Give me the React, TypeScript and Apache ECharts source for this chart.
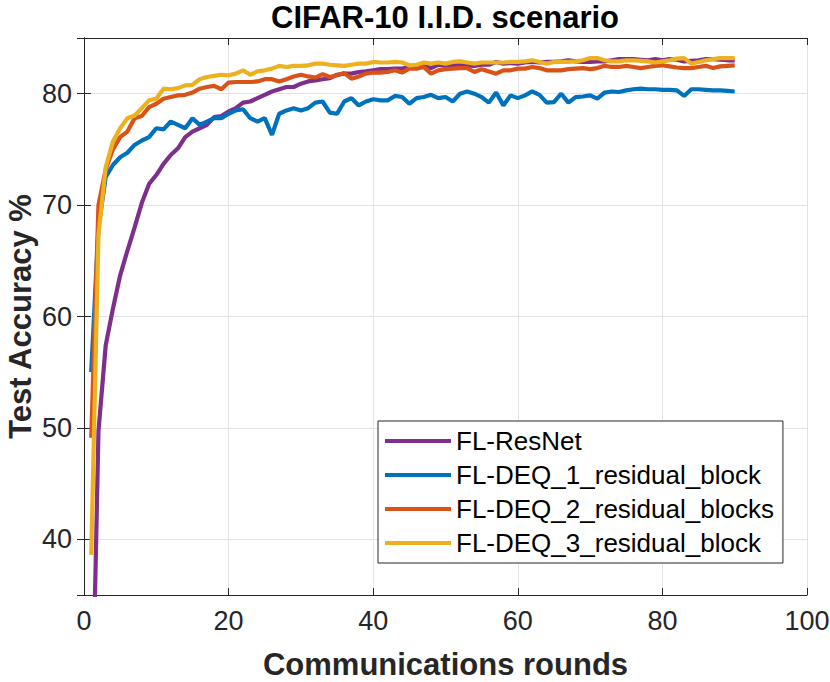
import React, { useEffect, useRef } from "react";
import * as echarts from "echarts";

const seriesNames = [
  "FL-ResNet",
  "FL-DEQ_1_residual_block",
  "FL-DEQ_2_residual_blocks",
  "FL-DEQ_3_residual_block",
];
const seriesColors = ["#7E2F8E", "#0072BD", "#D95319", "#EDB120"];

const resnet = [
  19, 49.7, 57.4, 60.7, 63.7, 65.9, 68.0, 70.2, 71.9, 72.7,
  73.7, 74.5, 75.1, 76.1, 76.6, 76.9, 77.2, 77.9, 78.0, 78.4,
  78.7, 79.2, 79.3, 79.6, 79.9, 80.2, 80.4, 80.6, 80.6, 80.9,
  81.1, 81.2, 81.3, 81.4, 81.7, 81.8, 81.8, 81.95, 82.0, 82.1,
  82.2, 82.2, 82.25, 82.25, 82.4, 82.3, 82.5, 82.3, 82.6, 82.5,
  82.55, 82.6, 82.55, 82.5, 82.6, 82.6, 82.85, 82.7, 82.75, 82.7,
  82.8, 82.85, 82.8, 82.85, 82.85, 82.9, 83.0, 82.9, 82.85, 82.85,
  82.9, 82.9, 83.0, 83.1, 83.1, 83.1, 83.05, 83.0, 83.1, 83.0,
  83.1, 83.05, 82.9, 82.95, 83.0, 83.1, 83.1, 83.05, 83.0, 83.0,
];

const deq1 = [
  55, 68, 72.5, 73.6, 74.3, 74.7, 75.4, 75.8, 76.1, 76.9,
  76.8, 77.5, 77.2, 76.9, 77.8, 77.2, 77.5, 77.8, 77.8, 78.2,
  78.5, 78.6, 77.8, 77.5, 77.8, 76.3, 78.2, 78.5, 78.7, 78.5,
  78.7, 79.2, 79.3, 78.3, 78.2, 79.3, 79.6, 78.95, 79.3, 79.5,
  79.4, 79.4, 79.8, 79.7, 79.1, 79.6, 79.7, 79.9, 79.6, 79.7,
  79.3, 80.0, 80.2, 80.0, 79.7, 79.2, 80.1, 78.95, 79.85, 79.6,
  79.85, 80.2, 79.9, 79.2, 79.25, 80.0, 79.2, 79.7, 79.75, 79.85,
  79.55, 80.1, 80.2, 80.15, 80.3, 80.4, 80.45, 80.4, 80.4, 80.35,
  80.35, 80.3, 79.8, 80.4, 80.4, 80.35, 80.3, 80.3, 80.25, 80.2,
];

const deq2 = [
  49.1, 70, 73.2, 75.0, 76.1, 76.6, 77.8, 78.0, 78.8, 79.1,
  79.55, 79.7, 79.85, 79.9, 80.1, 80.45, 80.6, 80.7, 80.4, 81.0,
  81.05, 81.05, 81.05, 81.1, 81.3, 81.3, 81.1, 81.3, 81.55, 81.7,
  81.55, 81.45, 81.75, 81.5, 81.65, 81.85, 81.35, 81.55, 81.8, 81.9,
  81.9, 81.95, 82.1, 81.9, 82.25, 82.25, 82.4, 81.8, 82.1, 82.2,
  82.25, 82.3, 82.3, 81.95, 82.2, 82.0, 81.8, 82.1, 82.1, 82.25,
  82.25, 82.4, 82.3, 82.1, 82.1, 82.1, 82.2, 82.25, 82.3, 82.2,
  82.3, 82.5, 82.4, 82.4, 82.5, 82.4, 82.3, 82.4, 82.5, 82.55,
  82.45, 82.35, 82.3, 82.3, 82.4, 82.5, 82.3, 82.45, 82.5, 82.55,
];

const deq3 = [
  38.6, 67.3, 73.4, 75.7, 76.9, 77.8, 78.05, 78.7, 79.4, 79.55,
  80.45, 80.4, 80.5, 80.75, 80.8, 81.3, 81.5, 81.6, 81.7, 81.65,
  81.8, 82.1, 81.7, 82.0, 82.1, 82.25, 82.5, 82.4, 82.5, 82.5,
  82.55, 82.7, 82.7, 82.6, 82.55, 82.5, 82.6, 82.7, 82.7, 82.85,
  82.8, 82.8, 82.85, 82.8, 82.55, 82.6, 82.8, 82.7, 82.8, 82.7,
  82.85, 82.9, 82.8, 82.7, 82.8, 82.8, 82.8, 82.8, 82.85, 82.85,
  82.9, 83.0, 82.85, 82.7, 82.85, 82.85, 82.85, 82.9, 83.0, 83.2,
  83.2, 83.0, 82.9, 82.9, 83.0, 83.0, 82.95, 82.9, 82.8, 82.9,
  83.0, 83.15, 83.2, 82.7, 82.85, 83.0, 83.1, 83.2, 83.2, 83.2,
];

const allValues = [resnet, deq1, deq2, deq3];
const rounds = resnet.map((_, i) => i + 1);

const titleText = "CIFAR-10 I.I.D. scenario";
const xLabel = "Communications rounds";
const yLabel = "Test Accuracy %";
const xMin = 0;
const xMax = 100;
const xInterval = 20;
const yMin = 35;
const yMax = 85;

const FONT = "'Liberation Sans', Arial, Helvetica, sans-serif";
const AXIS_COLOR = "#262626";
const GRID_COLOR = "#e3e3e3";
const LEGEND_ICON = "path://M0 0H66V4.2H0Z";
const BIG = 31;

export default function App() {
  const ref = useRef<HTMLDivElement>(null);

  useEffect(() => {
    if (!ref.current) return;
    const chart = echarts.init(ref.current, null, { renderer: "svg" });

    const axisCommon = {
      axisLine: { show: true, lineStyle: { color: AXIS_COLOR, width: 1 } },
      axisTick: { show: true, inside: true, length: 7, lineStyle: { color: AXIS_COLOR, width: 1 } },
    };

    const bigText = {
      fontFamily: FONT,
      fontSize: BIG,
      lineHeight: 28,
      fontWeight: "bold",
    };

    const option: any = {
      animation: false,
      backgroundColor: "#ffffff",
      title: {
        text: titleText,
        left: 445,
        top: 3,
        padding: 0,
        textAlign: "center",
        textStyle: { ...bigText, color: "#000000" },
      },
      grid: {
        left: 84,
        top: 38,
        width: 723,
        height: 557,
        containLabel: false,
        outerBoundsMode: "none",
      },
      legend: {
        data: seriesNames.map((name) => ({ name, icon: LEGEND_ICON })),
        orient: "vertical",
        left: 378,
        top: 421,
        padding: [7, 9, 7, 7],
        itemWidth: 66,
        itemHeight: 26,
        itemGap: 8,
        symbolKeepAspect: true,
        borderColor: AXIS_COLOR,
        borderWidth: 1,
        backgroundColor: "#ffffff",
        textStyle: { fontFamily: FONT, fontSize: 26, color: "#000000" },
      },
      xAxis: [
        {
          type: "value",
          position: "bottom",
          min: xMin,
          max: xMax,
          interval: xInterval,
          ...axisCommon,
          axisLabel: { fontFamily: FONT, fontSize: 27, color: AXIS_COLOR, margin: 12 },
          splitLine: { show: true, lineStyle: { color: GRID_COLOR, width: 1 } },
          name: xLabel,
          nameLocation: "middle",
          nameGap: 55,
          nameMoveOverlap: false,
          nameTextStyle: { ...bigText, color: AXIS_COLOR },
        },
        {
          type: "value",
          position: "top",
          min: xMin,
          max: xMax,
          interval: xInterval,
          ...axisCommon,
          axisLabel: { show: false },
          splitLine: { show: false },
        },
      ],
      yAxis: [
        {
          type: "value",
          position: "left",
          min: yMin,
          max: yMax,
          splitNumber: 5,
          ...axisCommon,
          axisLabel: {
            fontFamily: FONT,
            fontSize: 27,
            color: AXIS_COLOR,
            margin: 12,
            showMinLabel: false,
            showMaxLabel: false,
          },
          splitLine: { show: true, lineStyle: { color: GRID_COLOR, width: 1 } },
          name: yLabel,
          nameLocation: "middle",
          nameGap: 50,
          nameMoveOverlap: false,
          nameTextStyle: { ...bigText, color: AXIS_COLOR },
        },
        {
          type: "value",
          position: "right",
          min: yMin,
          max: yMax,
          splitNumber: 5,
          ...axisCommon,
          axisLabel: { show: false },
          splitLine: { show: false },
        },
      ],
      series: seriesNames.map((name, si) => ({
        name,
        type: "line",
        xAxisIndex: 0,
        yAxisIndex: 0,
        data: rounds.map((r, i) => [r, allValues[si][i]]),
        symbol: "none",
        showSymbol: false,
        clip: true,
        lineStyle: { color: seriesColors[si], width: 4.2 },
        itemStyle: { color: seriesColors[si] },
        z: 2 + si,
      })),
    };

    chart.setOption(option);
    return () => chart.dispose();
  }, []);

  return (
    <div
      ref={ref}
      style={{ position: "fixed", left: 0, top: 0, width: 830, height: 682, background: "#fff" }}
    />
  );
}
